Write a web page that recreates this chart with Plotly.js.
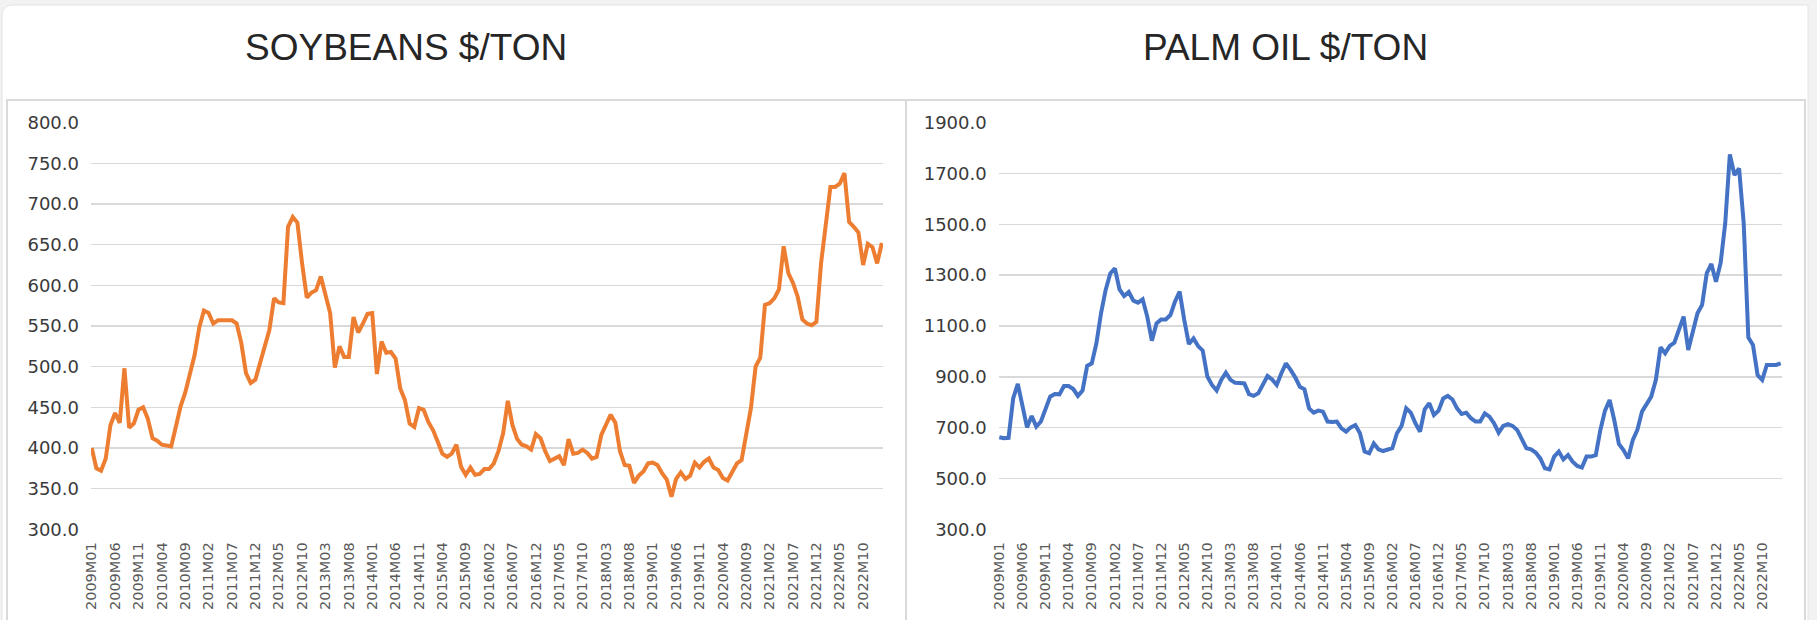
<!DOCTYPE html>
<html>
<head>
<meta charset="utf-8">
<script src="https://cdn.plot.ly/plotly-3.0.1.min.js"></script>
<style>
  html, body { margin: 0; padding: 0; background: #f2f2f2; }
  #chart { width: 1817px; height: 620px; }
</style>
</head>
<body>
<div id="chart"></div>
<script>
// monthly prices, 2009M01 .. 2023M02
const soybeans = [
  400, 375, 372, 387, 428, 443, 431, 498, 425, 430,
  447, 450, 436, 412, 409, 404, 403, 402, 426, 451,
  468, 492, 514, 548, 569, 566, 553, 557, 557, 556,
  557, 553, 529, 492, 480, 484, 504, 525, 545, 584,
  579, 578, 672, 684, 677, 627, 585, 591, 594, 611,
  589, 566, 499, 525, 512, 512, 561, 542, 553, 565,
  566, 491, 531, 517, 518, 510, 473, 459, 430, 426,
  449, 447, 432, 422, 408, 393, 389, 393, 404, 377,
  367, 376, 367, 368, 374, 374, 381, 396, 418, 458,
  428, 411, 404, 402, 398, 417, 412, 396, 384, 387,
  390, 379, 411, 393, 394, 398, 394, 387, 389, 416,
  430, 441, 431, 396, 379, 378, 357, 366, 371, 381,
  382, 379, 369, 361, 340, 362, 370, 362, 366, 382,
  376, 383, 387, 376, 373, 363, 360, 370, 381, 385,
  414, 449, 500, 511, 576, 578, 584, 595, 648, 615,
  603, 586, 558, 553, 551, 555, 627, 676, 721, 721,
  725, 738, 678, 672, 665, 625, 651, 647, 627, 652
];

const palmOil = [
  662, 658, 660, 815, 872, 783, 701, 746, 704, 724,
  769, 822, 832, 831, 864, 864, 852, 825, 846, 943,
  953, 1032, 1150, 1242, 1307, 1327, 1244, 1218, 1234, 1200,
  1192, 1205, 1137, 1042, 1110, 1126, 1126, 1143, 1196, 1235,
  1124, 1029, 1051, 1021, 1003, 901, 868, 846, 888, 916,
  888, 877, 876, 874, 832, 825, 835, 872, 903, 890,
  868, 914, 953, 927, 898, 861, 851, 776, 759, 767,
  763, 724, 722, 724, 697, 684, 701, 710, 678, 606,
  599, 638, 615, 608, 612, 619, 678, 707, 776, 759,
  717, 684, 772, 796, 750, 767, 815, 825, 811, 776,
  754, 759, 737, 724, 724, 756, 743, 717, 680, 707,
  714, 707, 691, 658, 619, 615, 602, 579, 540, 536,
  586, 606, 575, 592, 566, 549, 543, 586, 586, 592,
  691, 767, 809, 730, 636, 612, 579, 651, 691, 763,
  796, 822, 888, 1016, 993, 1022, 1034, 1084, 1137, 1006,
  1071, 1150, 1183, 1307, 1344, 1274, 1347, 1504, 1775, 1694,
  1720, 1504, 1055, 1025, 907, 888, 947, 947, 947, 953
];

const tickLabels = [
  '2009M01', '2009M06', '2009M11', '2010M04', '2010M09', '2011M02', '2011M07',
  '2011M12', '2012M05', '2012M10', '2013M03', '2013M08', '2014M01', '2014M06',
  '2014M11', '2015M04', '2015M09', '2016M02', '2016M07', '2016M12', '2017M05',
  '2017M10', '2018M03', '2018M08', '2019M01', '2019M06', '2019M11', '2020M04',
  '2020M09', '2021M02', '2021M07', '2021M12', '2022M05', '2022M10'
];

const titles = ['SOYBEANS $/TON', 'PALM OIL $/TON'];

// category labels, one per month
const months = [];
for (let i = 0; i < soybeans.length; i++) {
    const y = 2009 + Math.floor(i / 12);
    const m = (i % 12) + 1;
    months.push(y + 'M' + (m < 10 ? '0' + m : m));
}

const W = 1817, H = 620;
const px = x => x / W;         // pixel -> paper
const py = y => 1 - y / H;

const GRID = '#d9d9d9';

function xAxis(domain, range) {
    return {
        type: 'category', domain: domain, range: range,
        categoryorder: 'array', categoryarray: months,
        tickmode: 'array', tickvals: tickLabels, ticktext: tickLabels,
        tickangle: -90, ticks: '', showgrid: false, zeroline: false,
        showline: false, automargin: false, ticklabelstandoff: 9,
        tickfont: { family: 'DejaVu Sans', size: 14.5, color: '#595959' }
    };
}

function yAxis(range, dtick, anchor) {
    return {
        domain: [py(529.3), py(122.7)], range: range, dtick: dtick, tick0: range[0],
        tickformat: '.1f', ticks: '', showline: false, zeroline: false,
        gridcolor: GRID, gridwidth: 1.6, automargin: false, anchor: anchor,
        ticklabelstandoff: 11,
        tickfont: { family: 'DejaVu Sans', size: 18, color: '#3a3a3a' }
    };
}

const traces = [
    { x: months, y: soybeans, xaxis: 'x', yaxis: 'y', mode: 'lines',
      line: { color: '#ED7D31', width: 4 } },
    { x: months, y: palmOil, xaxis: 'x2', yaxis: 'y2', mode: 'lines',
      line: { color: '#4472C4', width: 4 } }
];

const card = 'M 2,16 Q 2,5 13,5 L 1808,5 L 1808,' + (H + 30) + ' L 2,' + (H + 30) + ' Z';

const layout = {
    width: W, height: H,
    margin: { l: 0, r: 0, t: 0, b: 0 },
    paper_bgcolor: '#f2f2f2', plot_bgcolor: 'rgba(0,0,0,0)',
    showlegend: false, hovermode: false,
    font: { family: 'DejaVu Sans' },
    xaxis: xAxis([px(91), px(883)], [-0.15, 169.25]),
    yaxis: yAxis([300, 800], 50, 'x'),
    xaxis2: xAxis([px(998.7), px(1782)], [-0.13, 169.28]),
    yaxis2: yAxis([300, 1900], 200, 'x2'),
    shapes: [
        // white card behind everything
        { type: 'path', xref: 'paper', yref: 'paper', layer: 'below',
          path: card.replace(/(\d+(?:\.\d+)?),(\d+(?:\.\d+)?)/g,
              (s, a, b) => px(+a) + ',' + py(+b)),
          fillcolor: '#ffffff', line: { color: '#e4e4e4', width: 1 } },
        // chart frames
        { type: 'rect', xref: 'paper', yref: 'paper', layer: 'below',
          x0: px(7), x1: px(906), y0: py(100), y1: py(H + 30),
          line: { color: GRID, width: 2 } },
        { type: 'rect', xref: 'paper', yref: 'paper', layer: 'below',
          x0: px(906), x1: px(1805), y0: py(100), y1: py(H + 30),
          line: { color: GRID, width: 2 } }
    ],
    annotations: [
        { text: titles[0], xref: 'paper', yref: 'paper', x: px(405.7), y: py(47.5),
          xanchor: 'center', yanchor: 'middle', showarrow: false,
          font: { family: 'Liberation Sans, Arial', size: 37, color: '#262626' } },
        { text: titles[1], xref: 'paper', yref: 'paper', x: px(1285), y: py(47.5),
          xanchor: 'center', yanchor: 'middle', showarrow: false,
          font: { family: 'Liberation Sans, Arial', size: 37, color: '#262626' } }
    ]
};

Plotly.newPlot('chart', traces, layout, { staticPlot: true, displayModeBar: false });
</script>
</body>
</html>
